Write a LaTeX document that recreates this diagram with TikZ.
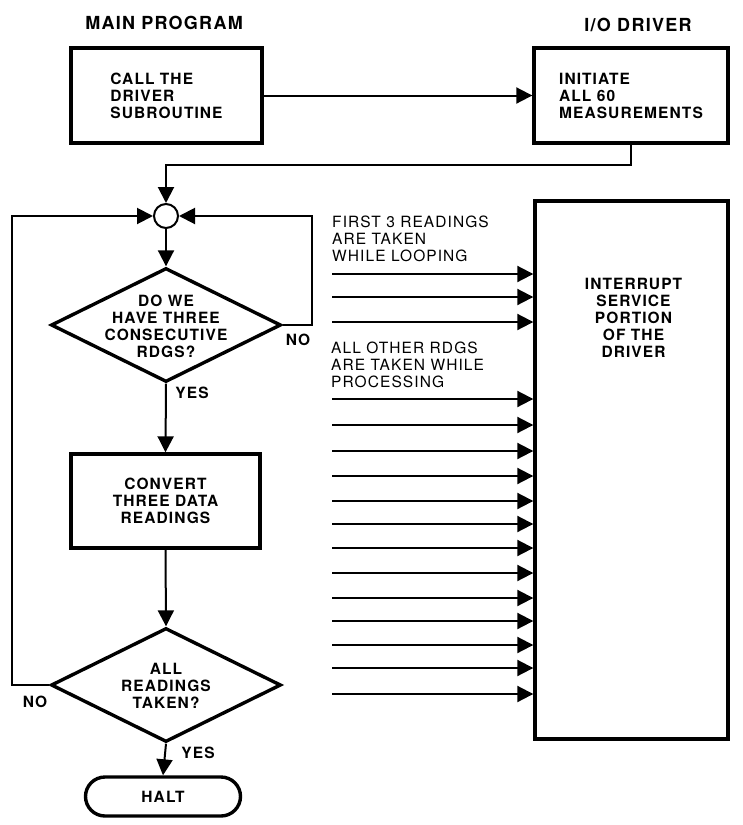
\documentclass[tikz,border=0pt]{standalone}
\usepackage{fontspec}
\setmainfont{TeX Gyre Heros}[LetterSpace=7]
\usetikzlibrary{arrows.meta,shapes.geometric,shapes.misc}
\newcommand\mybf{\fontsize{15.5}{17}\selectfont\bfseries}
\newcommand\myrm{\fontsize{15.5}{17}\selectfont}
\newcommand\mytitle{\fontsize{18}{20}\selectfont\bfseries}
\tikzset{
  bx/.style={draw, line width=3.4pt, inner sep=0pt, font=\mybf},
  dia/.style={draw, diamond, line width=3.4pt, inner sep=0pt, minimum width=230pt, minimum height=114pt},
  txt/.style={font=\mybf, align=center, inner sep=0pt},
  lbl/.style={font=\myrm, align=left, inner sep=0pt, anchor=west},
  conn/.style={line width=2pt, -{Triangle[length=16pt,width=16pt]}},
}
\begin{document}
\begin{tikzpicture}[x=1pt,y=-1pt]
\useasboundingbox[fill=white] (0,0) rectangle (743,825);

% titles
\node[font=\mytitle, inner sep=0pt] (t1) at (164,23) {MAIN PROGRAM};
\node[font=\mytitle, inner sep=0pt] (t2) at (638,25) {I/O DRIVER};

% boxes
\node[bx, align=left, minimum width=191pt, minimum height=95pt] (b1) at (166.5,95.5)
  {CALL THE\\DRIVER\\SUBROUTINE};
\node[bx, align=left, minimum width=194pt, minimum height=95pt] (b2) at (631,95.5)
  {INITIATE\\ALL 60\\MEASUREMENTS};

% junction
\node[circle, draw, line width=2pt, minimum size=24pt, inner sep=0pt] (jn) at (166,216) {};

% decision 1
\node[dia] (d1) at (166,325) {};
\node[txt] (d1t) at (166,326) {DO WE\\HAVE THREE\\CONSECUTIVE\\RDGS?};

% convert box
\node[bx, align=center, minimum width=189pt, minimum height=94pt] (b3) at (165.5,501)
  {CONVERT\\THREE DATA\\READINGS};

% decision 2
\node[dia] (d2) at (166,685) {};
\node[txt] (d2t) at (166,686) {ALL\\READINGS\\TAKEN?};

% halt
\node[draw, rounded rectangle, line width=3.4pt, minimum width=155pt, minimum height=39pt,
      inner sep=0pt, font=\mybf] (halt) at (163,796.5) {HALT};

% big interrupt box
\node[bx, minimum width=193pt, minimum height=538pt] (big) at (631.5,470) {};
\node[txt] (bigt) at (633.5,318) {INTERRUPT\\SERVICE\\PORTION\\OF THE\\DRIVER};

% yes/no labels
\node[txt] (no1) at (298,340) {NO};
\node[txt] (yes1) at (192,393) {YES};
\node[txt] (no2) at (35,702) {NO};
\node[txt] (yes2) at (198,753) {YES};

% annotation labels
\node[lbl] (l1) at (332,239) {FIRST 3 READINGS\\ARE TAKEN\\WHILE LOOPING};
\node[lbl] (l2) at (331,365) {ALL OTHER RDGS\\ARE TAKEN WHILE\\PROCESSING};

% connectors
\draw[conn] (b1.east) -- (b2.west);
\coordinate (c1) at (631,165);
\draw[conn] (b2.south) -- (c1) -| (jn.north);
\draw[conn] (jn.south) -- (d1.north);
\coordinate (c2) at (312,325);
\draw[conn] (d1.east) -- (c2) |- (jn.east);
\draw[conn] (d1.south) -- (b3.north);
\draw[conn] (b3.south) -- (d2.north);
\coordinate (c3) at (12,685);
\draw[conn] (d2.west) -- (c3) |- (jn.west);
\draw[conn] (d2.south) -- (halt.north);

% reading arrows
\foreach \y [count=\i] in {274,297,322,399,425,451,476,501,524,548,573,598,621,645,668,694}{
  \coordinate (s\i) at (332,\y);
  \draw[conn] (s\i) -- (s\i -| big.west);
}
\end{tikzpicture}
\end{document}
